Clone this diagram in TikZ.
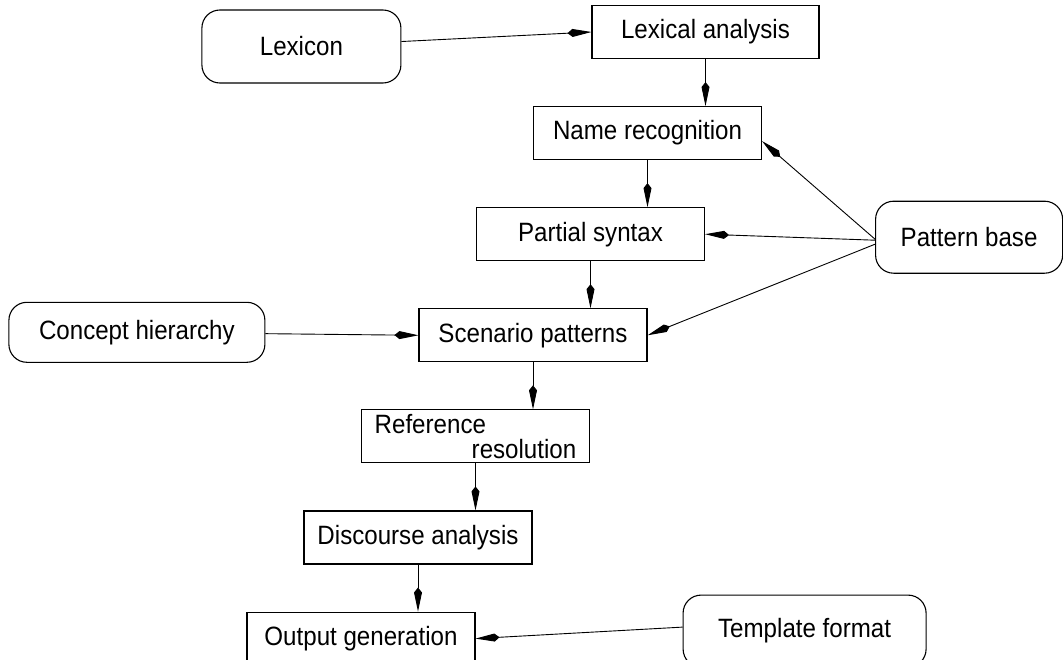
\documentclass[tikz,border=0pt]{standalone}
\usepackage{fontspec}
\setmainfont[FakeStretch=0.91]{Liberation Sans}
\tikzstyle{stage}=[rectangle,draw=black,line width=1.1pt,
minimum width=228pt,minimum height=53pt,inner sep=0pt]
\tikzstyle{store}=[rectangle,rounded corners=18pt,draw=black,line width=1.1pt,
inner sep=0pt]
\tikzstyle{link}=[line width=0.9pt,-{Kite[length=24pt,width=8pt,inset=5pt]}]
\usetikzlibrary{arrows.meta,positioning}

\begin{document}
\begin{tikzpicture}[x=1pt,y=1pt,node distance=47pt,
    font=\fontsize{26.5pt}{25pt}\selectfont]
            \useasboundingbox (0,0) rectangle (1063,-659);

            % PROCESSING STAGES

            \node[stage,minimum width=227pt] (lexan) at (705.5,-32) {Lexical analysis};
            \node[stage, below=of lexan, xshift=-58pt] (namerec) {Name recognition};
            \node[stage, below=of namerec, xshift=-57pt] (partial) {Partial syntax};
            \node[stage, below=of partial, xshift=-57.5pt] (scen) {Scenario patterns};
            \node[stage, below=of scen, xshift=-57.5pt, align=left] (refres)
                {Reference\\\hspace*{97pt}resolution};
            \node[stage, below=of refres, xshift=-57.5pt] (disc) {Discourse analysis};
            \node[stage, below=of disc, xshift=-57pt] (outgen) {Output generation};

            \path[link] (lexan) edge (namerec.north -| lexan);
            \path[link] (namerec) edge (partial.north -| namerec);
            \path[link] (partial) edge (scen.north -| partial);
            \path[link] (scen) edge (refres.north -| scen);
            \path[link] (refres) edge (disc.north -| refres);
            \path[link] (disc) edge (outgen.north -| disc);

            % KNOWLEDGE SOURCES

            \node[store, left=190pt of lexan, yshift=-14.5pt,
                  minimum width=199pt, minimum height=73pt] (lexicon) {Lexicon};
            \node[store, left=153pt of scen, yshift=3pt,
                  minimum width=256pt, minimum height=60pt] (concept) {Concept hierarchy};
            \node[store, right=170pt of partial, yshift=-3pt,
                  minimum width=187pt, minimum height=72pt] (patbase) {Pattern base};
            \node[store, right=207pt of outgen, yshift=7.5pt,
                  minimum width=243pt, minimum height=72pt] (template) {Template format};

            \path[link] (lexicon) edge (lexan.west);
            \path[link] (concept) edge (scen.west);
            \path[link] ([yshift=-2pt]patbase.west) edge ([yshift=-8pt]namerec.east);
            \path[link] ([yshift=-3pt]patbase.west) edge (partial.east);
            \path[link] ([yshift=-7pt]patbase.west) edge (scen.east);
            \path[link] ([yshift=4pt]template.west) edge (outgen.east);

\end{tikzpicture}
\end{document}
